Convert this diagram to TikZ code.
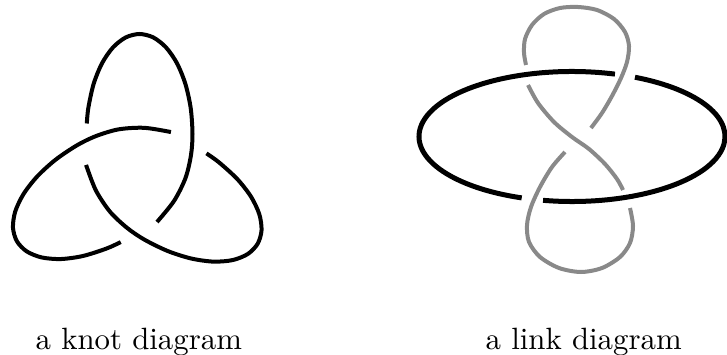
\documentclass[tikz,border=0pt]{standalone}
\usetikzlibrary{calc}
\definecolor{linkgray}{HTML}{898989}
\tikzset{
  knotline/.style={line width=4pt, black},
  ringline/.style={line width=5pt, black},
  grayline/.style={line width=4pt, linkgray},
  caption/.style={anchor=base west, inner sep=0pt, scale=3.08}
}
\begin{document}
\begin{tikzpicture}[x=1pt, y=-1pt]
\useasboundingbox (0,0) rectangle (727,355);
% trefoil knot: one arc, repeated with threefold symmetry
\coordinate (kc) at (138,173);
\foreach \r in {0,120,-120}{
  \draw[knotline, rotate around={\r:(kc)}] plot[smooth] coordinates {(157,222) (174,201) (185.5,178) (191,155) (192.5,134) (190.7,108.1) (185.4,84) (177,63.3) (166,47.4) (153.2,37.4) (139.5,34) (125.8,37.4) (113,47.4) (102,63.3) (93.6,84) (88.3,108.1) (86.8,123.5)};
}
% link: black ring
\coordinate (ec) at (572,136.5);
\draw[ringline] ($(ec)+(-73.7:153 and 65)$) arc[start angle=-73.7, end angle=-250.8, x radius=153, y radius=65];
\draw[ringline] ($(ec)+(-259.1:153 and 65)$) arc[start angle=-259.1, end angle=-425.7, x radius=153, y radius=65];
% link: gray figure-eight component
\draw[grayline] plot[smooth] coordinates {(630,208) (633,226) (630,243) (620,257) (602,268) (581,272) (559,268) (540,257) (529,242) (527,225) (531,207) (540,187) (552,167) (565,152)};
\draw[grayline] plot[smooth] coordinates {(528,85) (538,103) (554,122) (572,137) (589,149) (605,164) (617,179) (623,190)};
\draw[grayline] plot[smooth] coordinates {(591,128) (602,113) (612,96) (621,78) (627,62) (629,46) (625,32) (614,19) (597,10) (578,7) (560,8) (544,14) (532,25) (525,39) (524,53) (526,65)};
% captions
\node[caption] (knotlabel) at (35,349) {a knot diagram};
\node[caption] (linklabel) at (485,349) {a link diagram};
\end{tikzpicture}
\end{document}
